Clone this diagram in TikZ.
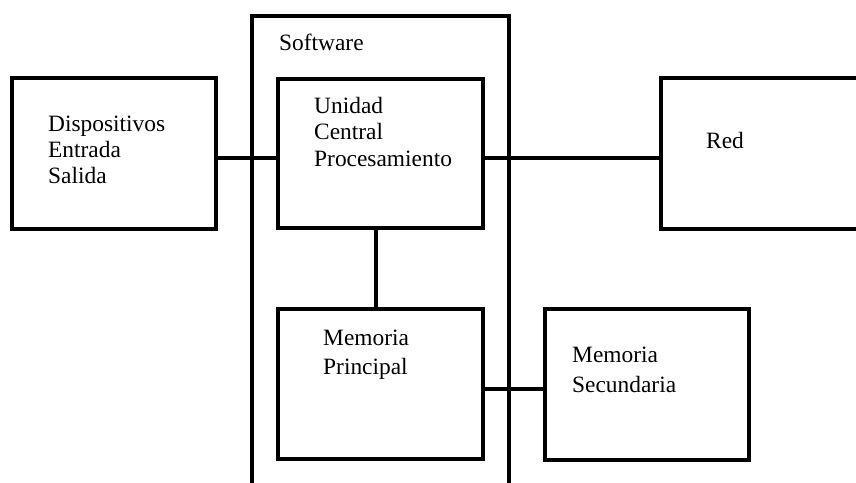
\documentclass[tikz,border=0pt]{standalone}
\usepackage{fontspec}
\setmainfont{Liberation Serif}
\begin{document}
\begin{tikzpicture}[x=1pt,y=-1pt,
  box/.style={draw=black, line width=3.2pt, rectangle, outer sep=0pt, inner sep=0pt, anchor=north west},
  wire/.style={draw=black, line width=3.2pt},
  lbl/.style={anchor=base west, inner sep=0pt, font=\fontsize{23.4}{26}\selectfont}]
\useasboundingbox (0,0) rectangle (856,482);
\clip (0,0) rectangle (856,482);
\fill[white] (0,0) rectangle (856,482);
% boxes
\node[box, minimum width=257pt, minimum height=480pt] (sw) at (252,16) {};
\node[box, minimum width=204pt, minimum height=151pt] (disp) at (12,78) {};
\node[box, minimum width=205pt, minimum height=149pt] (cpu) at (278,79) {};
\node[box, minimum width=215pt, minimum height=151pt] (red) at (661,78) {};
\node[box, minimum width=205pt, minimum height=150pt] (memp) at (278,309) {};
\node[box, minimum width=204pt, minimum height=151pt] (mems) at (545,309) {};
% labels
\node[lbl] (tsw) at (279,50) {Software};
\node[lbl] (tdisp) at (48,131) {\vtop{\baselineskip=26pt\hbox{Dispositivos}\hbox{Entrada}\hbox{Salida}}};
\node[lbl] (tcpu) at (314,113) {\vtop{\baselineskip=26.5pt\hbox{Unidad}\hbox{Central}\hbox{Procesamiento}}};
\node[lbl] (tred) at (706,148) {Red};
\node[lbl] (tmemp) at (323,345) {\vtop{\baselineskip=29pt\hbox{Memoria}\hbox{Principal}}};
\node[lbl] (tmems) at (572,362) {\vtop{\baselineskip=30pt\hbox{Memoria}\hbox{Secundaria}}};
% connectors
\draw[wire] (disp.east |- 0,158) -- (cpu.west |- 0,158);
\draw[wire] (cpu.east |- 0,158) -- (red.west |- 0,158);
\draw[wire] (cpu.south -| 376,0) -- (memp.north -| 376,0);
\draw[wire] (memp.east |- 0,389) -- (mems.west |- 0,389);
\end{tikzpicture}
\end{document}
